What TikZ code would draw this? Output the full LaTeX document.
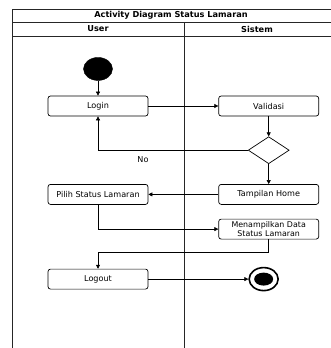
\documentclass[tikz,border=0pt]{standalone}
\usepackage{fontspec}
\setmainfont{DejaVu Sans}
\usetikzlibrary{arrows.meta,positioning,shapes.geometric}

\begin{document}
\begin{tikzpicture}[
      x=1pt, y=-1pt,
      node distance=20pt and 70pt,
      >={Triangle[length=4pt,width=4pt]},
      font=\fontsize{8.1}{9}\selectfont,
      lane/.style={line width=0.9pt, draw=black!85},
      lanetitle/.style={font=\fontsize{8.2}{9}\selectfont\bfseries},
      act/.style={draw, rounded corners=2.5pt, align=center, minimum width=100pt,
      minimum height=20pt, inner sep=1pt, line width=0.7pt},
      decision/.style={draw, diamond, aspect=1.5, minimum width=41pt,
      minimum height=27pt, inner sep=0pt, line width=0.7pt},
      flow/.style={->, line width=0.6pt}
    ]
    \useasboundingbox (0,0) rectangle (331,348);

    % swimlanes
    \draw[lane] (331,9) -- (12,9) -- (12,348);
    \draw[lane] (12,22) -- (331,22);
    \draw[lane] (12,36) -- (331,36);
    \draw[lane] (184,22) -- (184,348);
    \node[lanetitle] (title) at (171,15.5) {Activity Diagram Status Lamaran};
    \node[lanetitle] (user) at (98,29) {User};
    \node[lanetitle] (sistem) at (257,29) {Sistem};

    % activities
    \node[act] (login) at (98,106) {Login};
    \node[act, right=of login] (validasi) {Validasi};
    \node[decision, below=of validasi] (cek) {};
    \node[act, below=of cek] (home) {Tampilan Home};
    \node[act, left=of home] (pilih) {Pilih Status Lamaran};
    \node[act, below=14pt of home, font=\fontsize{7.9}{8.5}\selectfont]
    (tampil) {Menampilkan Data\\Status Lamaran};
    \node[act, below=64pt of pilih] (logout) {Logout};
    \node[draw, fill=black, ellipse, minimum width=29pt, minimum height=23pt,
    inner sep=0pt, above=15pt of login] (start) {};
    \node[draw, ellipse, line width=1.6pt, minimum width=29pt, minimum height=23pt,
    inner sep=0pt, right=100pt of logout] (finish) {};
    \node[fill=black, ellipse, minimum width=19pt, minimum height=13pt,
    inner sep=0pt] (finishdot) at (finish.center) {};
    \coordinate (belok) at (98,252);

    \draw[flow] (start) -- (login);
    \draw[flow] (login) -- (validasi);
    \draw[flow] (validasi) -- (cek);
    \draw[flow] (cek.west) -| node[pos=0.35, below=3pt] {No} (login.south);
    \draw[flow] (cek) -- (home);
    \draw[flow] (home) -- (pilih);
    \draw[flow] (pilih.south) |- (tampil.west);
    \draw[line width=0.6pt] (tampil.south) |- (belok);
    \draw[flow] (belok) -- (logout);
    \draw[flow] (logout) -- (finish);
  \end{tikzpicture}
\end{document}
